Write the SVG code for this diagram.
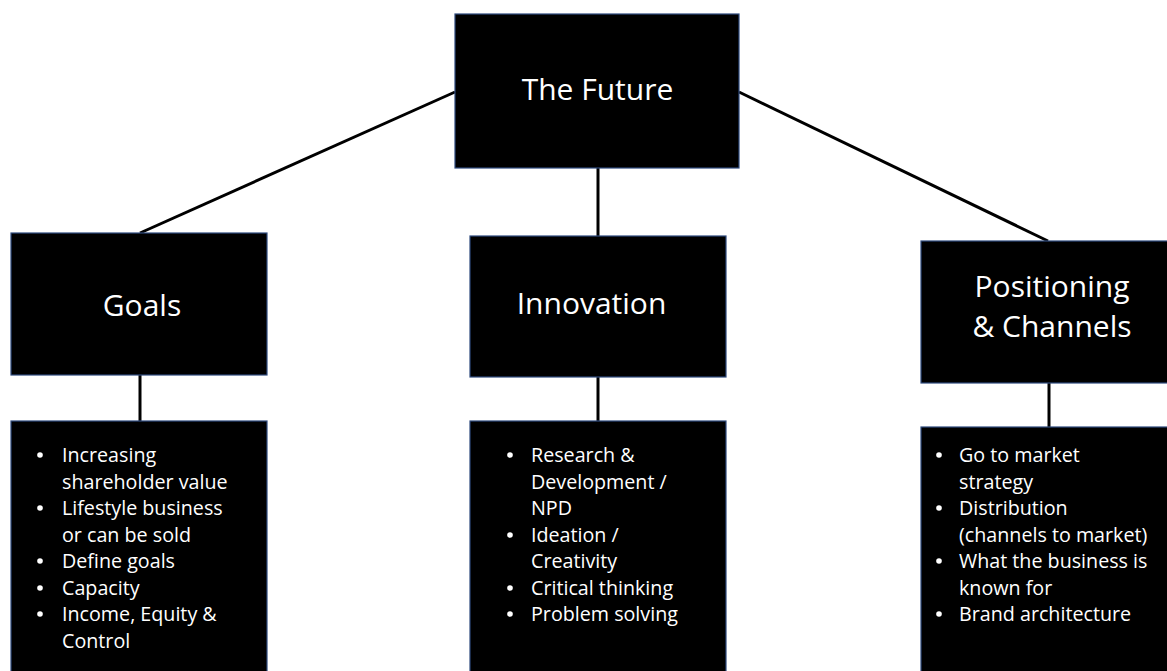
<svg xmlns="http://www.w3.org/2000/svg" width="1167" height="671" viewBox="0 0 1167 671">
<style>
.box{fill:#000;stroke:#2E4A7D;stroke-width:1.2}
.conn{stroke:#000;stroke-width:3;fill:none}
.t{fill:#fff;font-family:"Open Sans","Noto Sans",sans-serif;font-size:30px;text-anchor:middle}
.b{fill:#fff;font-family:"Open Sans","Noto Sans",sans-serif;font-size:19.7px}
.dot{fill:#fff}
</style>
<rect width="1167" height="671" fill="#fff"/>
<g id="connectors">
<line class="conn" x1="140" y1="233" x2="455" y2="92"/>
<line class="conn" x1="739" y1="92" x2="1048" y2="241"/>
<line class="conn" x1="598" y1="168" x2="598" y2="236"/>
<line class="conn" x1="140" y1="375" x2="140" y2="421"/>
<line class="conn" x1="598" y1="377" x2="598" y2="421"/>
<line class="conn" x1="1049" y1="383" x2="1049" y2="427"/>
</g>
<g id="future">
<rect class="box" x="455" y="14" width="284" height="154"/>
<text class="t" x="597.5" y="100">The Future</text>
</g>
<g id="goals">
<rect class="box" x="11" y="233" width="256" height="142"/>
<text class="t" x="142" y="316">Goals</text>
</g>
<g id="innovation">
<rect class="box" x="470" y="236" width="256" height="141"/>
<text class="t" x="591.5" y="314">Innovation</text>
</g>
<g id="positioning">
<rect class="box" x="921" y="241" width="260" height="142"/>
<text class="t" x="1052" y="297">Positioning</text>
<text class="t" x="1052" y="337">&amp; Channels</text>
</g>
<g id="goals-list">
<rect class="box" x="11" y="421" width="256" height="260"/>
<circle class="dot" cx="40" cy="455" r="2.8"/><text class="b" x="62" y="462">Increasing</text>
<text class="b" x="62" y="489">shareholder value</text>
<circle class="dot" cx="40" cy="508" r="2.8"/><text class="b" x="62" y="515">Lifestyle business</text>
<text class="b" x="62" y="542">or can be sold</text>
<circle class="dot" cx="40" cy="561" r="2.8"/><text class="b" x="62" y="568">Define goals</text>
<circle class="dot" cx="40" cy="588" r="2.8"/><text class="b" x="62" y="595">Capacity</text>
<circle class="dot" cx="40" cy="614" r="2.8"/><text class="b" x="62" y="621">Income, Equity &amp;</text>
<text class="b" x="62" y="648">Control</text>
</g>
<g id="innovation-list">
<rect class="box" x="470" y="421" width="256" height="260"/>
<circle class="dot" cx="510" cy="455" r="2.8"/><text class="b" x="531" y="462">Research &amp;</text>
<text class="b" x="531" y="489">Development /</text>
<text class="b" x="531" y="515">NPD</text>
<circle class="dot" cx="510" cy="535" r="2.8"/><text class="b" x="531" y="542">Ideation /</text>
<text class="b" x="531" y="568">Creativity</text>
<circle class="dot" cx="510" cy="588" r="2.8"/><text class="b" x="531" y="595">Critical thinking</text>
<circle class="dot" cx="510" cy="614" r="2.8"/><text class="b" x="531" y="621">Problem solving</text>
</g>
<g id="positioning-list">
<rect class="box" x="921" y="427" width="260" height="260"/>
<circle class="dot" cx="939" cy="455" r="2.8"/><text class="b" x="959" y="462">Go to market</text>
<text class="b" x="959" y="489">strategy</text>
<circle class="dot" cx="939" cy="508" r="2.8"/><text class="b" x="959" y="515">Distribution</text>
<text class="b" x="959" y="542">(channels to market)</text>
<circle class="dot" cx="939" cy="561" r="2.8"/><text class="b" x="959" y="568">What the business is</text>
<text class="b" x="959" y="595">known for</text>
<circle class="dot" cx="939" cy="614" r="2.8"/><text class="b" x="959" y="621">Brand architecture</text>
</g>
</svg>
